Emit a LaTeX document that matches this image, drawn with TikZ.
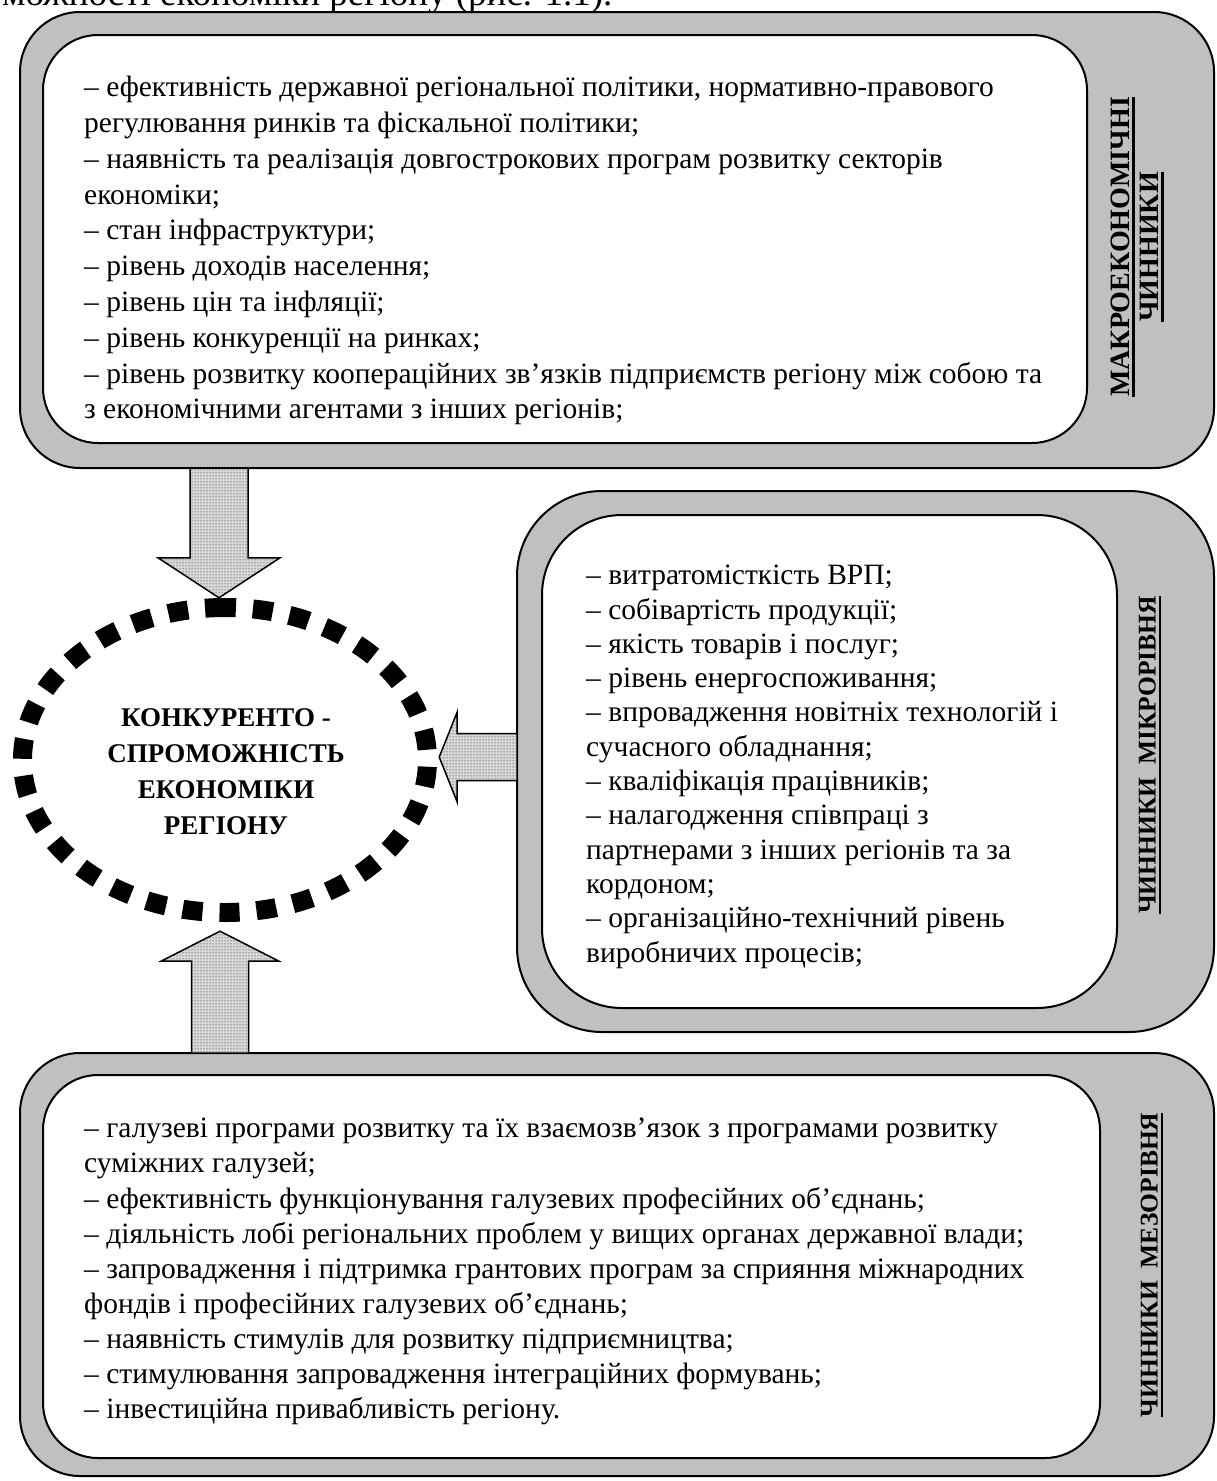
\documentclass[tikz,border=0pt]{standalone}
\usepackage{fontspec}
\setmainfont{Liberation Serif}
\usetikzlibrary{shapes.geometric,patterns,calc}
\definecolor{boxgray}{RGB}{192,192,192}
\newsavebox\ulbox
\newcommand{\myul}[1]{\sbox\ulbox{#1}\rlap{\vrule height -3pt depth 5.5pt width \wd\ulbox}\usebox\ulbox}
\begin{document}
\begin{tikzpicture}[x=1pt,y=-1pt,
  outerbox/.style={draw, line width=2pt, fill=boxgray, inner sep=0pt, outer sep=0pt, rectangle},
  innerbox/.style={draw, line width=2pt, fill=white, inner sep=0pt, outer sep=0pt, rectangle},
  bodytext/.style={inner sep=0pt, anchor=north west, align=left},
  lbl/.style={inner sep=0pt, align=center, font=\fontsize{28}{29}\selectfont\bfseries},
  sidelbl/.style={inner sep=0pt, align=center, font=\fontsize{25.5}{27}\selectfont\bfseries},
  blockarrow/.style={draw, line width=1.5pt, fill=gray!30, postaction={pattern=dots, pattern color=black}, line join=miter},
  goaldash/.style={line width=19pt, dash pattern=on 20pt off 17pt}]
\useasboundingbox (0,0) rectangle (1216,1481);
\fill[white] (0,0) rectangle (1216,1481);
% cut caption line at the top
\begin{scope}
\clip (0,0) rectangle (1216,1481);
\node[anchor=base west, inner sep=0pt, font=\fontsize{37}{40}\selectfont] (caption) at (2,5) {можності економіки регіону (рис. 1.1).};
\end{scope}
% macro box
\node[outerbox, rounded corners=60pt, minimum width=1194pt, minimum height=456pt] (macroOut) at (617,240) {};
\node[innerbox, rounded corners=55pt, minimum width=1044pt, minimum height=408pt] (macroIn) at (565,239) {};
\node[bodytext, font=\fontsize{29.5}{35.8}\selectfont] (macroTxt) at (84,76) {– ефективність державної регіональної політики, нормативно-правового\\
регулювання ринків та фіскальної політики;\\
– наявність та реалізація довгострокових програм розвитку секторів\\
економіки;\\
– стан інфраструктури;\\
– рівень доходів населення;\\
– рівень цін та інфляції;\\
– рівень конкуренції на ринках;\\
– рівень розвитку коопераційних зв’язків підприємств регіону між собою та\\
з економічними агентами з інших регіонів;};
\node[lbl, rotate=90] (macroLbl) at (1137,247) {\myul{МАКРОЕКОНОМІЧНІ}\\\myul{ЧИННИКИ}};
% micro box
\node[outerbox, rounded corners=85pt, minimum width=697pt, minimum height=541pt] (microOut) at (865.5,761.5) {};
\node[innerbox, rounded corners=80pt, minimum width=575pt, minimum height=493pt] (microIn) at (829.5,761.5) {};
\node[bodytext, font=\fontsize{29.5}{34.3}\selectfont] (microTxt) at (586,565) {– витратомісткість ВРП;\\
– собівартість продукції;\\
– якість товарів і послуг;\\
– рівень енергоспоживання;\\
– впровадження новітніх технологій і\\
сучасного обладнання;\\
– кваліфікація працівників;\\
– налагодження співпраці з\\
партнерами з інших регіонів та за\\
кордоном;\\
– організаційно-технічний рівень\\
виробничих процесів;};
\node[sidelbl, rotate=90] (microLbl) at (1150,755) {\myul{ЧИННИКИ~~МІКРОРІВНЯ}};
% mezo box
\node[outerbox, rounded corners=60pt, minimum width=1194pt, minimum height=423pt] (mezoOut) at (617,1264.5) {};
\node[innerbox, rounded corners=55pt, minimum width=1057pt, minimum height=383pt] (mezoIn) at (571.5,1266.5) {};
\node[bodytext, font=\fontsize{29.5}{35.1}\selectfont] (mezoTxt) at (84,1118) {– галузеві програми розвитку та їх взаємозв’язок з програмами розвитку\\
суміжних галузей;\\
– ефективність функціонування галузевих професійних об’єднань;\\
– діяльність лобі регіональних проблем у вищих органах державної влади;\\
– запровадження і підтримка грантових програм за сприяння міжнародних\\
фондів і професійних галузевих об’єднань;\\
– наявність стимулів для розвитку підприємництва;\\
– стимулювання запровадження інтеграційних формувань;\\
– інвестиційна привабливість регіону.};
\node[sidelbl, rotate=90] (mezoLbl) at (1152,1265) {\myul{ЧИННИКИ~~МЕЗОРІВНЯ}};
% goal ellipse
\node[ellipse, minimum width=424pt, minimum height=324pt, inner sep=0pt] (goal) at (225,760) {};
\draw[goaldash] ($(goal.center)+(0,-152.5)$) arc[start angle=270, end angle=-90, x radius=202.5, y radius=152.5];
\node[align=center, inner sep=0pt, font=\fontsize{27}{36}\selectfont\bfseries] (goalTxt) at (226,772) {КОНКУРЕНТО -\\СПРОМОЖНІСТЬ\\ЕКОНОМІКИ\\РЕГІОНУ};
% block arrows
\coordinate (axD) at (219,0);
\coordinate (axU) at (220,0);
\coordinate (axL) at (0,757);
\coordinate (dTail) at (macroOut.south -| axD);
\coordinate (dTip) at (goal.north -| axD);
\coordinate (lTail) at (microOut.west |- axL);
\coordinate (lTip) at ($(goal.east |- axL)+(2,0)$);
\coordinate (uTail) at (mezoOut.north -| axU);
\coordinate (uTip) at ($(goal.south -| axU)+(0,9)$);
\draw[blockarrow] ($(dTail)+(-29,0)$) -- ($(dTip)+(-29,-40)$) -- ($(dTip)+(-61,-40)$) -- (dTip) -- ($(dTip)+(61,-40)$) -- ($(dTip)+(29,-40)$) -- ($(dTail)+(29,0)$) -- cycle;
\draw[blockarrow] ($(lTail)+(0,-23.5)$) -- ($(lTip)+(18,-23.5)$) -- ($(lTip)+(18,-45)$) -- (lTip) -- ($(lTip)+(18,45)$) -- ($(lTip)+(18,23.5)$) -- ($(lTail)+(0,23.5)$) -- cycle;
\draw[blockarrow] ($(uTail)+(-28.5,0)$) -- ($(uTip)+(-28.5,30)$) -- ($(uTip)+(-59,30)$) -- (uTip) -- ($(uTip)+(59,30)$) -- ($(uTip)+(28.5,30)$) -- ($(uTail)+(28.5,0)$) -- cycle;
\end{tikzpicture}
\end{document}
